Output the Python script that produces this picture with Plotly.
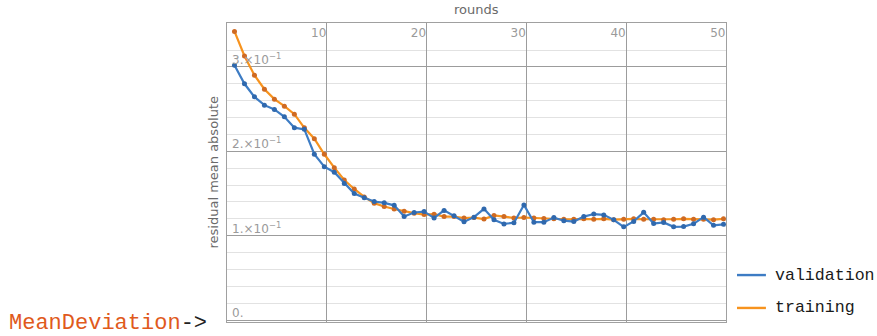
import plotly.graph_objects as go

# ---- data ----
rounds = [r - 0.25 for r in range(1, 51)]

validation = [
    0.302, 0.280, 0.2645, 0.2547, 0.2496, 0.2409, 0.228, 0.226, 0.1965, 0.1818,
    0.1752, 0.162, 0.150, 0.145, 0.1405, 0.139, 0.136, 0.1227, 0.1275, 0.1286,
    0.121, 0.130, 0.1236, 0.1165, 0.122, 0.1318, 0.1188, 0.114, 0.1153, 0.1365,
    0.116, 0.1161, 0.1215, 0.1178, 0.1168, 0.1227, 0.1257, 0.1247, 0.1188, 0.1105,
    0.117, 0.1277, 0.1145, 0.1158, 0.1105, 0.1109, 0.1141, 0.122, 0.1123, 0.1135,
]

training = [
    0.342, 0.3129, 0.2901, 0.2736, 0.2618, 0.2535, 0.244, 0.2278, 0.215, 0.1965,
    0.1806, 0.166, 0.1554, 0.146, 0.1386, 0.1346, 0.1316, 0.129, 0.1267, 0.125,
    0.1255, 0.1227, 0.1227, 0.121, 0.1215, 0.1198, 0.124, 0.1227, 0.121, 0.1216,
    0.121, 0.1205, 0.120, 0.1195, 0.1195, 0.120, 0.1195, 0.120, 0.119, 0.1195,
    0.120, 0.1195, 0.1195, 0.119, 0.1195, 0.120, 0.1195, 0.1195, 0.119, 0.120,
]

x_tick_vals = [10, 20, 30, 40, 50]
x_tick_text = ["10", "20", "30", "40", "50"]
y_tick_vals = [0.0, 0.1, 0.2, 0.3]
y_tick_text = ["0.", "1.×10<sup>−1</sup>", "2.×10<sup>−1</sup>", "3.×10<sup>−1</sup>"]
y_minor_vals = [0.02, 0.04, 0.06, 0.08, 0.12, 0.14, 0.16, 0.18,
                0.22, 0.24, 0.26, 0.28, 0.32, 0.34]

series_names = ["validation", "training"]

# ---- styles ----
BLUE_LINE = "#3d7cc4"
BLUE_DOT = "#2f68ad"
ORANGE_LINE = "#f7931e"
ORANGE_DOT = "#cf6a22"
TICK_GRAY = "#9a9a9a"
MAJOR_GRID = "#9c9c9c"
MINOR_GRID = "#e2e2e2"
FRAME = "#a0a0a0"
MONO = "Liberation Mono, DejaVu Sans Mono, monospace"
SANS = "DejaVu Sans, sans-serif"

fig = go.Figure()

fig.add_trace(go.Scatter(
    x=rounds, y=training, mode="lines+markers", name=series_names[1],
    line=dict(color=ORANGE_LINE, width=2.2),
    marker=dict(color=ORANGE_DOT, size=5),
    showlegend=False,
))
fig.add_trace(go.Scatter(
    x=rounds, y=validation, mode="lines+markers", name=series_names[0],
    line=dict(color=BLUE_LINE, width=2.2),
    marker=dict(color=BLUE_DOT, size=5),
    showlegend=False,
))

fig.update_layout(
    width=877, height=336,
    margin=dict(l=227, r=151, t=23, b=14),
    paper_bgcolor="white", plot_bgcolor="white",
    showlegend=False,
    font=dict(family=SANS, size=12, color=TICK_GRAY),
    xaxis=dict(
        range=[0, 50], side="top",
        tickmode="array", tickvals=x_tick_vals, ticktext=x_tick_text,
        ticklabelposition="inside left", ticks="", ticklabelstandoff=2,
        tickfont=dict(family=SANS, size=12, color=TICK_GRAY),
        showgrid=True, gridcolor=MAJOR_GRID, gridwidth=1,
        showline=True, linecolor=FRAME, linewidth=1, mirror=True,
        zeroline=False, fixedrange=True,
    ),
    yaxis=dict(
        range=[-0.0022, 0.352],
        tickmode="array", tickvals=y_tick_vals, ticktext=y_tick_text,
        ticklabelposition="inside top", ticks="",
        ticklabelstandoff=4, ticklabelshift=1,
        tickfont=dict(family=SANS, size=12, color=TICK_GRAY),
        showgrid=True, gridcolor=MAJOR_GRID, gridwidth=1,
        minor=dict(tickvals=y_minor_vals, showgrid=True, gridcolor=MINOR_GRID, gridwidth=1),
        showline=True, linecolor=FRAME, linewidth=1, mirror=True,
        zeroline=False, fixedrange=True,
    ),
)

# ---- legend (drawn as line swatches + labels to the right of the frame) ----
legend_rows = [(series_names[0], BLUE_LINE, 0.157), (series_names[1], ORANGE_LINE, 0.047)]
for name, color, ypos in legend_rows:
    fig.add_shape(
        type="line", xref="paper", yref="paper",
        x0=1.022, x1=1.080, y0=ypos, y1=ypos,
        line=dict(color=color, width=2.4),
    )
    fig.add_annotation(
        text=name, xref="paper", yref="paper", x=1.094, y=ypos,
        xanchor="left", yanchor="middle", showarrow=False,
        font=dict(family=MONO, size=16.6, color="#1a1a1a"),
    )

# axis titles
fig.add_annotation(
    text="rounds", xref="paper", yref="paper", x=0.5, y=1.0, yshift=14,
    xanchor="center", yanchor="middle", showarrow=False,
    font=dict(family=SANS, size=13, color="#6a6a6a"),
)
fig.add_annotation(
    text="residual mean absolute", xref="paper", yref="paper", x=0.0, y=0.5, xshift=-14,
    xanchor="center", yanchor="middle", textangle=-90, showarrow=False,
    font=dict(family=SANS, size=13, color="#6a6a6a"),
)

# "MeanDeviation->" label
fig.add_annotation(
    text="<span style='color:#e05a1c'>MeanDeviation</span><span style='color:#222222'>-></span>",
    xref="paper", yref="paper", x=-0.44, y=-0.005, xanchor="left", yanchor="middle",
    showarrow=False,
    font=dict(family=MONO, size=22),
)

# remove the browser's default 8px body margin so the figure sits at the page origin
fig.write_html(
    "out.html",
    config={"displayModeBar": False, "staticPlot": True},
    post_script="document.body.style.margin='0';",
)
